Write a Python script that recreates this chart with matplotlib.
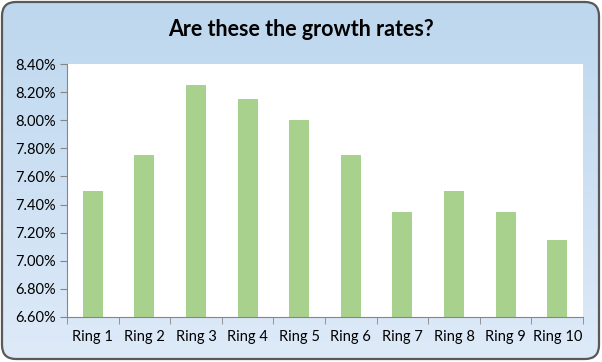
import matplotlib.pyplot as plt
import numpy as np
from matplotlib.patches import FancyBboxPatch
from matplotlib.ticker import FuncFormatter, FixedLocator

plt.rcParams['font.family'] = ['Lato', 'DejaVu Sans']

rings = ['Ring 1', 'Ring 2', 'Ring 3', 'Ring 4', 'Ring 5',
         'Ring 6', 'Ring 7', 'Ring 8', 'Ring 9', 'Ring 10']
rates = [7.50, 7.75, 8.25, 8.15, 8.00, 7.75, 7.35, 7.50, 7.35, 7.15]
yticks = np.arange(6.6, 8.41, 0.2)

fig = plt.figure(figsize=(6.02, 3.62), dpi=100)

# background with vertical gradient, clipped to a rounded box
bg = fig.add_axes([0, 0, 1, 1])
bg.set_xlim(0, 602)
bg.set_ylim(362, 0)
bg.axis('off')
grad = np.linspace(0, 1, 256).reshape(-1, 1)
top = np.array([189, 215, 238]) / 255
bot = np.array([222, 234, 248]) / 255
img = top + (bot - top) * grad[:, :, None]
im = bg.imshow(img, extent=[0, 602, 362, 0], aspect='auto', zorder=0)
box = FancyBboxPatch((2, 2), 597, 357, boxstyle='round,pad=0,rounding_size=14',
                     facecolor='none', edgecolor='#595959', linewidth=1.6, zorder=2)
bg.add_patch(box)
im.set_clip_path(box)

ax = fig.add_axes([67 / 602, 1 - 317 / 362, (583 - 67) / 602, (317 - 64) / 362])
ax.set_facecolor('white')
x = np.arange(len(rings))
ax.bar(x, rates, width=0.39, color='#a9d18e', bottom=0)
ax.set_xlim(-0.5, len(rings) - 0.5)
ax.set_ylim(6.6, 8.4)
ax.set_yticks(yticks)
ax.yaxis.set_major_formatter(FuncFormatter(lambda v, p: f'{v:.2f}%'))
ax.set_xticks(x)
ax.set_xticklabels(rings)
ax.xaxis.set_minor_locator(FixedLocator(np.arange(-0.5, len(rings), 1)))
ax.tick_params(axis='x', which='major', length=0, pad=9, labelsize=10.5, colors='black')
ax.tick_params(axis='x', which='minor', length=5, color='#868686', direction='out')
ax.tick_params(axis='y', length=5, color='#868686', direction='out', pad=3, labelsize=10.5)
for s in ['top', 'right']:
    ax.spines[s].set_visible(False)
for s in ['left', 'bottom']:
    ax.spines[s].set_color('#868686')

fig.text(0.5, 1 - 30 / 362, 'Are these the growth rates?', ha='center', va='center',
         fontsize=15.5, fontweight='bold')

fig.savefig('out.png', dpi=100)
